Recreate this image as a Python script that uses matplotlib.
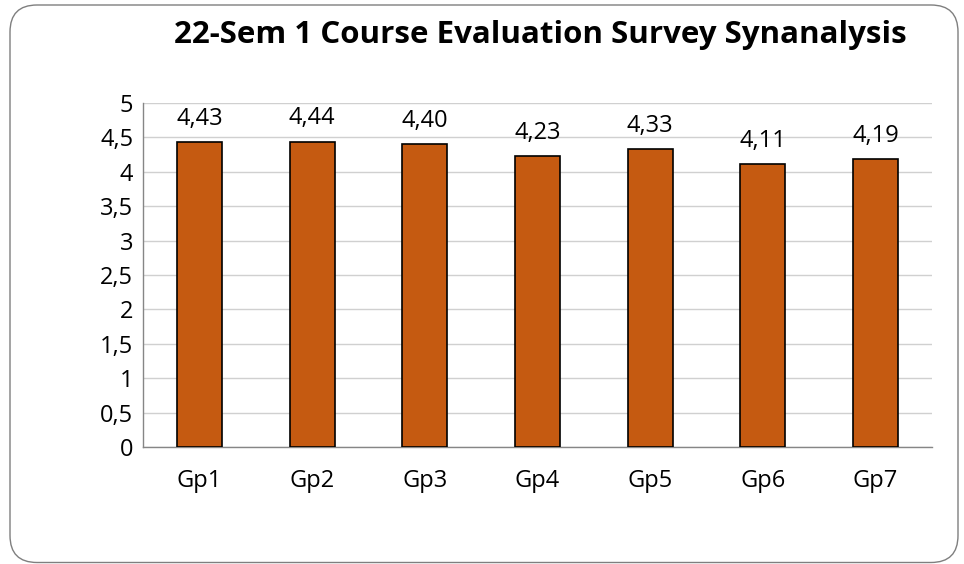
import matplotlib
matplotlib.use("Agg")
import matplotlib.pyplot as plt
from matplotlib.patches import FancyBboxPatch

categories = ["Gp1", "Gp2", "Gp3", "Gp4", "Gp5", "Gp6", "Gp7"]
values = [4.43, 4.44, 4.40, 4.23, 4.33, 4.11, 4.19]
yticks = [0, 0.5, 1, 1.5, 2, 2.5, 3, 3.5, 4, 4.5, 5]
title = "22-Sem 1 Course Evaluation Survey Synanalysis"

plt.rcParams['font.family'] = ['Open Sans', 'DejaVu Sans']

W, H = 964, 564
fig = plt.figure(figsize=(W / 100, H / 100), dpi=100)

# rounded border (inch coordinates)
box = FancyBboxPatch((0.10, 0.015), 9.48, 5.575,
                     boxstyle="round,pad=0,rounding_size=0.27",
                     transform=fig.dpi_scale_trans, facecolor="white",
                     edgecolor="#7f7f7f", linewidth=1.0, zorder=-10)
fig.patches.append(box)

ax = fig.add_axes([143 / W, 1 - 447 / H, (932 - 143) / W, (447 - 103) / H])
ax.set_facecolor("none")
x = list(range(len(categories)))
bars = ax.bar(x, values, width=0.4, color="#C55A11", edgecolor="black",
              linewidth=1.2, zorder=3)
ax.set_xlim(-0.5, len(categories) - 0.5)
ax.set_ylim(0, 5)
ax.set_yticks(yticks)
ax.set_yticklabels([("%g" % t).replace(".", ",") for t in yticks], fontsize=17)
ax.set_xticks(x)
ax.set_xticklabels(categories, fontsize=17)
ax.tick_params(axis="both", length=0)
ax.tick_params(axis="y", pad=7)
ax.tick_params(axis="x", pad=16)
ax.grid(axis="y", color="#d0d0d0", linewidth=1.0, zorder=0)
for s in ["top", "right"]:
    ax.spines[s].set_visible(False)
for s in ["left", "bottom"]:
    ax.spines[s].set_color("#868686")
    ax.spines[s].set_linewidth(1.0)

for xi, v in zip(x, values):
    ax.annotate(("%.2f" % v).replace(".", ","), (xi, v), xytext=(0, 8),
                textcoords="offset points", ha="center", va="bottom",
                fontsize=17, zorder=4)

fig.text(540 / W, 1 - 35 / H, title, ha="center", va="center",
         fontsize=22.5, fontweight="bold")

fig.savefig("out.png", dpi=100)
